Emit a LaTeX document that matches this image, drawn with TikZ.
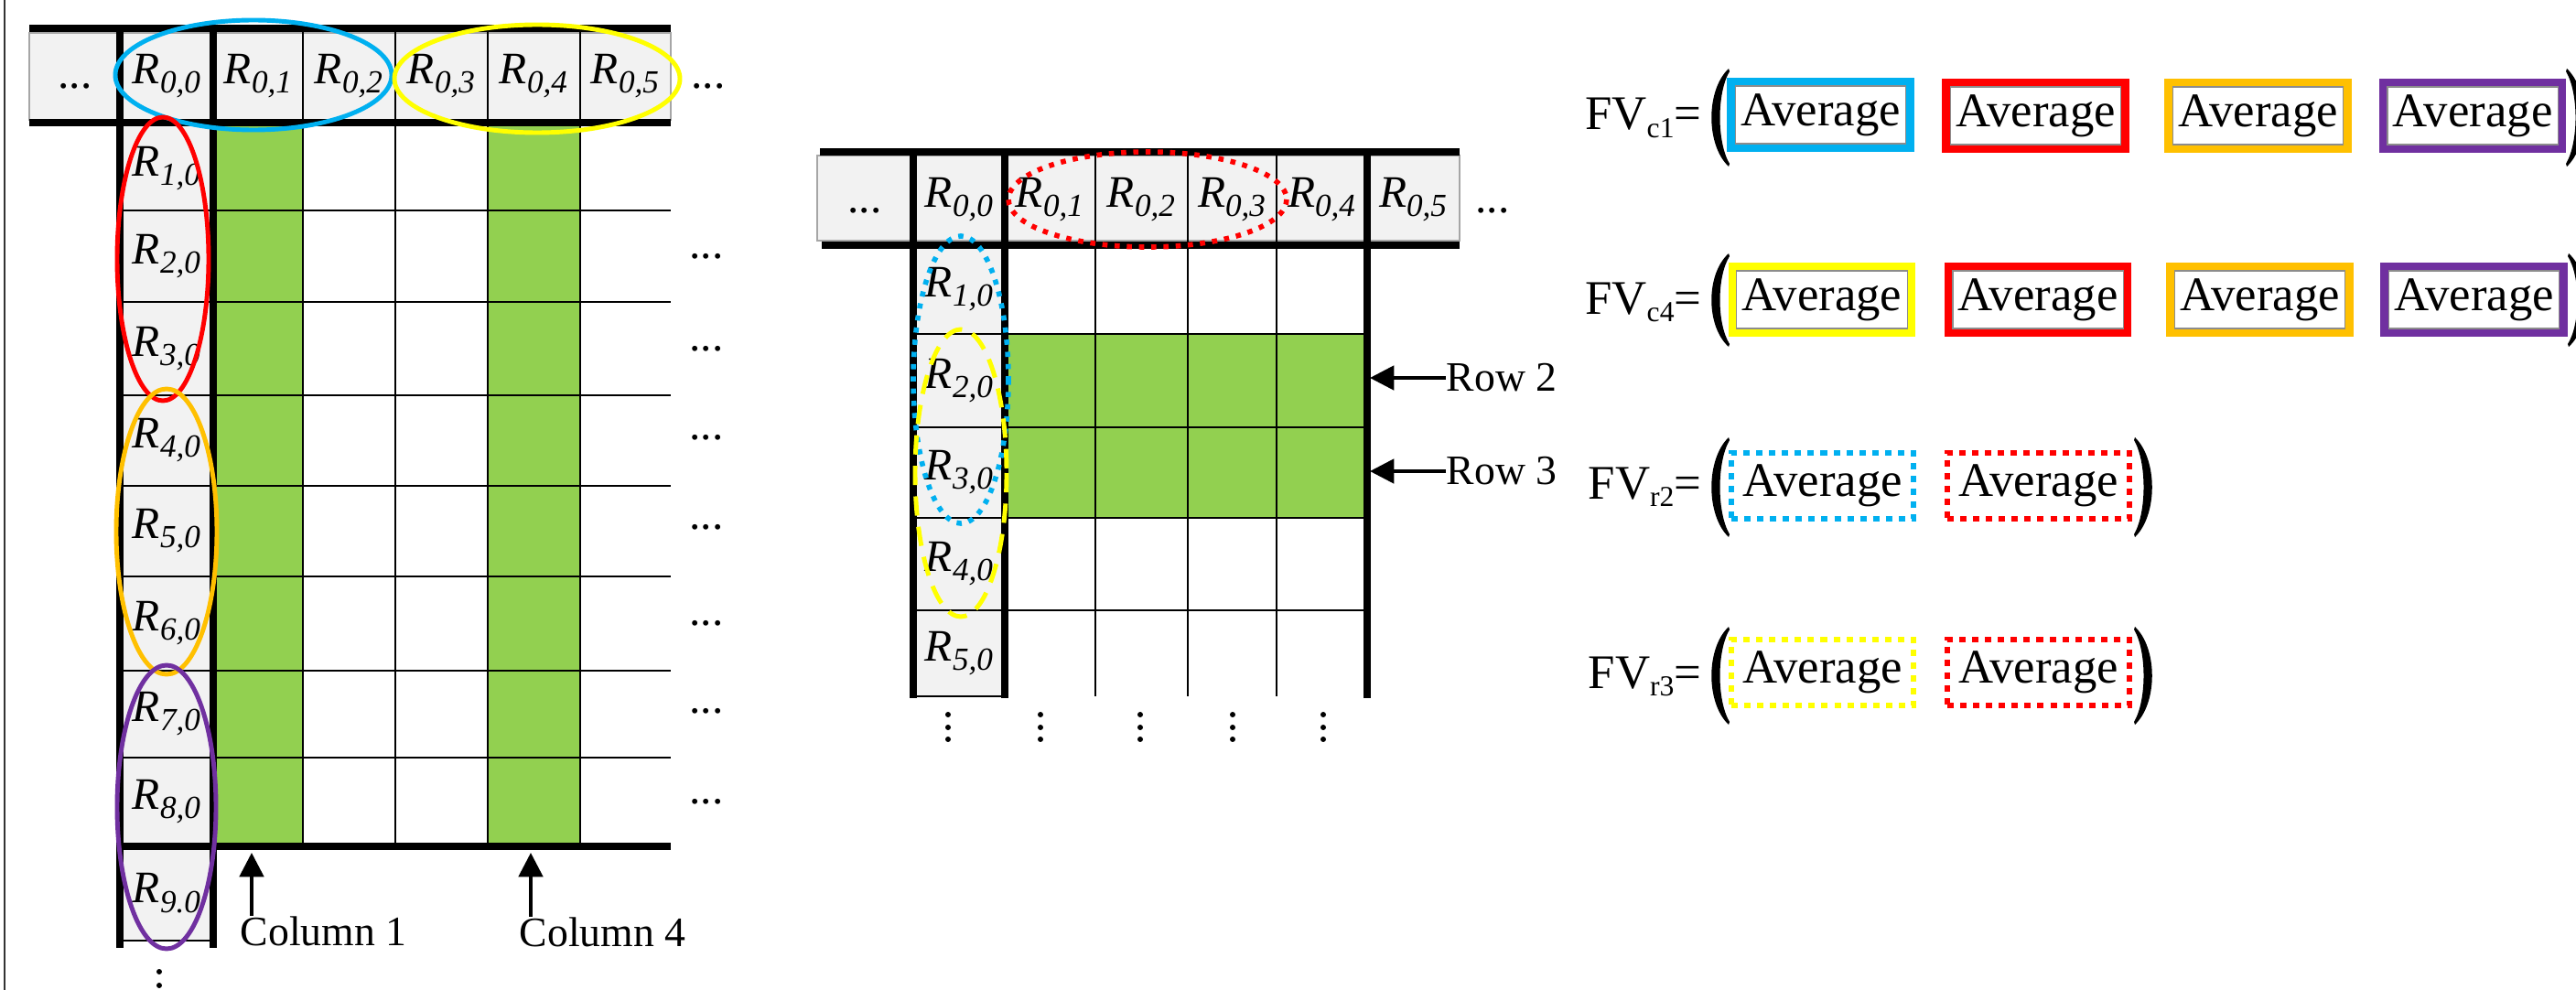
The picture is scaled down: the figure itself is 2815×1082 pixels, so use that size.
\documentclass[tikz,border=0pt]{standalone}
\usepackage{fontspec}
\setmainfont{Liberation Serif}
\usetikzlibrary{arrows.meta}
\definecolor{cblue}{HTML}{00B0F0}
\definecolor{cred}{HTML}{FF0000}
\definecolor{cyel}{HTML}{FFFF00}
\definecolor{corange}{HTML}{FFC000}
\definecolor{cpurple}{HTML}{7030A0}
\definecolor{cgreen}{HTML}{92D050}
\definecolor{cgray}{HTML}{F2F2F2}
\newcommand\Rlab[1]{R\raisebox{-3pt}{\fontsize{10}{12}\selectfont #1}}
\newcommand\mySub[1]{\raisebox{-2.5pt}{\fontsize{9}{10}\selectfont #1}}
\newcommand\myLP[3]{\fill ({#1+22},#2) .. controls ({#1-3},{#2+0.22*(#3-#2)}) and ({#1-3},{#3-0.22*(#3-#2)}) .. ({#1+22},#3) -- ({#1+23},{#3-3}) .. controls ({#1+9},{#3-0.25*(#3-#2)}) and ({#1+9},{#2+0.25*(#3-#2)}) .. ({#1+23},{#2+3}) -- cycle;}
\newcommand\myRP[3]{\fill ({#1-22},#2) .. controls ({#1+3},{#2+0.22*(#3-#2)}) and ({#1+3},{#3-0.22*(#3-#2)}) .. ({#1-22},#3) -- ({#1-23},{#3-3}) .. controls ({#1-9},{#3-0.25*(#3-#2)}) and ({#1-9},{#2+0.25*(#3-#2)}) .. ({#1-23},{#2+3}) -- cycle;}
\begin{document}
\begin{tikzpicture}[x=0.01cm, y=-0.01cm,
 thk/.style={line width=2.3pt},
 thn/.style={line width=0.6pt},
 ell/.style={line width=1.4pt},
 dotell/.style={line width=1.6pt, dash pattern=on 1.6pt off 2.2pt},
 dashell/.style={line width=1.4pt, dash pattern=on 6pt off 3.5pt},
 rlab/.style={inner sep=0pt, font=\fontsize{14}{16}\selectfont\itshape},
 lab/.style={inner sep=0pt, font=\fontsize{13}{15}\selectfont},
 dts/.style={inner sep=0pt, font=\fontsize{14}{16}\selectfont, anchor=base},
 fvlab/.style={inner sep=0pt, font=\fontsize{15}{17}\selectfont, anchor=base east},
 solidbox/.style={draw=#1, line width=2.55pt, outer sep=0pt, minimum width=1.95cm, minimum height=0.72cm, inner sep=0pt, font=\fontsize{15}{17}\selectfont},
 dotbox/.style={draw=#1, line width=1.7pt, dash pattern=on 2pt off 2pt, minimum width=1.99cm, minimum height=0.72cm, inner sep=0pt, font=\fontsize{15}{17}\selectfont},
 arr/.style={line width=1.1pt, -{Triangle[length=7.5pt,width=7.5pt]}},
]
\useasboundingbox (0,0) rectangle (2815,1082);
\clip (0,0) rectangle (2815,1082);
\fill[white] (0,0) rectangle (2815,1082);
\draw[line width=0.6pt, black!80] (5,0) -- (5,1082);

% ---------- left table ----------
\fill[cgray] (32,36) rectangle (733,131);
\draw[black!35, line width=0.4pt] (32,36) rectangle (733,131);
\fill[cgray] (131,134) rectangle (233,1028);
\fill[cgreen] (233,134) rectangle (331,925);
\fill[cgreen] (533,134) rectangle (634,925);
\foreach \x in {331,432,533,634} \draw[thn] (\x,31) -- (\x,925);
\foreach \y in {230,330,432,531,630,733,828} \draw[thn] (131,\y) -- (733,\y);
\draw[thn] (131,1028) -- (233,1028);
\draw[thk] (32,31) -- (733,31);
\draw[thk] (32,134) -- (733,134);
\draw[thk] (131,925) -- (733,925);
\draw[thk] (131,31) -- (131,1036);
\draw[thk] (233,31) -- (233,1036);

\node[dts] (ldl) at (82,97) {...};
\node[dts] (ldr) at (774,97) {...};
\foreach \i/\x in {0/182,1/282,2/381,3/482,4/583,5/683} \node[rlab] (la\i) at (\x,83) {\Rlab{0,\i}};
\foreach \i/\y in {1/184,2/280,3/381,4/481,5/580,6/681,7/780,8/876} \node[rlab] (lr\i) at (182,\y) {\Rlab{\i,0}};
\node[rlab] (lr9) at (182,976) {\Rlab{9.0}};
\foreach \k/\y in {2/282,3/383,4/480,5/578,6/683,7/779,8/878} \node[dts] (ld\k) at (772,\y) {...};
\fill (174,1062) circle (3);
\fill (174,1077) circle (3);

\draw[ell, cblue] (277,82) ellipse [x radius=151, y radius=60];
\draw[ell, cyel] (587,86) ellipse [x radius=156, y radius=59];
\draw[ell, cred] (178,283) ellipse [x radius=50, y radius=155];
\draw[ell, corange] (182,581) ellipse [x radius=55, y radius=156];
\draw[ell, cpurple] (182,882) ellipse [x radius=54, y radius=155];

\node[lab, anchor=base west] (col1) at (262,1033) {Column 1};
\node[lab, anchor=base west] (col4) at (567,1034) {Column 4};
\coordinate (c1tip) at (275,932);
\coordinate (c4tip) at (580,932);
\draw[arr] (col1.north west -| c1tip) -- (c1tip);
\draw[arr] (col4.north west -| c4tip) -- (c4tip);

% ---------- middle table ----------
\fill[cgray] (893,170) rectangle (1595,263);
\draw[black!35, line width=0.4pt] (893,170) rectangle (1595,263);
\fill[cgray] (998,268) rectangle (1098,761);
\fill[cgreen] (1098,365) rectangle (1494,566);
\foreach \x in {1197,1298,1395} \draw[thn] (\x,166) -- (\x,761);
\foreach \y in {365,467,566,667} \draw[thn] (998,\y) -- (1494,\y);
\draw[thn] (998,761) -- (1098,761);
\draw[thk] (896,166) -- (1595,166);
\draw[thk] (898,268) -- (1595,268);
\foreach \x in {998,1098,1494} \draw[thk] (\x,166) -- (\x,763);

\node[dts] (mdl) at (945,232) {...};
\node[dts] (mdr) at (1631,232) {...};
\foreach \i/\x in {0/1048,1/1147,2/1247,3/1346,4/1444,5/1544} \node[rlab] (ma\i) at (\x,218) {\Rlab{0,\i}};
\foreach \i/\y in {1/316,2/416,3/516,4/616,5/714} \node[rlab] (mr\i) at (1048,\y) {\Rlab{\i,0}};
\foreach \x in {1036,1137,1246,1347,1446} {
  \fill (\x,781) circle (3);
  \fill (\x,795) circle (3);
  \fill (\x,808) circle (3);
}

\draw[dotell, cred] (1254,218) ellipse [x radius=152, y radius=52];
\draw[dotell, cblue] (1050,415) ellipse [x radius=52, y radius=157];
\draw[dashell, cyel] (1050,517) ellipse [x radius=50, y radius=157];

\node[lab, anchor=west] (row2) at (1580,413) {Row 2};
\node[lab, anchor=west] (row3) at (1580,515) {Row 3};
\coordinate (r2tip) at (1497,413);
\coordinate (r3tip) at (1497,515);
\draw[arr] (row2.west) -- (r2tip);
\draw[arr] (row3.west) -- (r3tip);

% ---------- feature vectors ----------
\node[fvlab] (fvc1) at (1860,142) {FV\mySub{c1}=};
\node[fvlab] (fvc4) at (1860,343) {FV\mySub{c4}=};
\node[fvlab] (fvr2) at (1860,545) {FV\mySub{r2}=};
\node[fvlab] (fvr3) at (1860,752) {FV\mySub{r3}=};

\myLP{1867}{75}{182}
\myRP{2827}{75}{182}
\myLP{1867}{277}{379}
\myRP{2829}{277}{379}
\myLP{1867}{478}{587}
\myRP{2355}{478}{587}
\myLP{1867}{685}{792}
\myRP{2355}{685}{792}

\node[solidbox=cblue] (c1a) at (1989.5,125.5) {Average};
\node[solidbox=cred] (c1b) at (2224.5,126.5) {Average};
\node[solidbox=corange] (c1c) at (2467.5,126.5) {Average};
\node[solidbox=cpurple] (c1d) at (2702,126.5) {Average};
\node[solidbox=cyel] (c4a) at (1991,327.5) {Average};
\node[solidbox=cred] (c4b) at (2227,327.5) {Average};
\node[solidbox=corange] (c4c) at (2469.5,327.5) {Average};
\node[solidbox=cpurple] (c4d) at (2703.5,327.5) {Average};
\foreach \b in {c1a,c1b,c1c,c1d,c4a,c4b,c4c,c4d}
  \draw[black!45, line width=0.3pt] ([shift={(4.5,4.5)}]\b.north west) rectangle ([shift={(-4.5,-4.5)}]\b.south east);

\node[dotbox=cblue] (r2a) at (1991.5,531) {Average};
\node[dotbox=cred] (r2b) at (2227.5,531) {Average};
\node[dotbox=cyel] (r3a) at (1991.5,735) {Average};
\node[dotbox=cred] (r3b) at (2227.5,735) {Average};
\end{tikzpicture}
\end{document}
